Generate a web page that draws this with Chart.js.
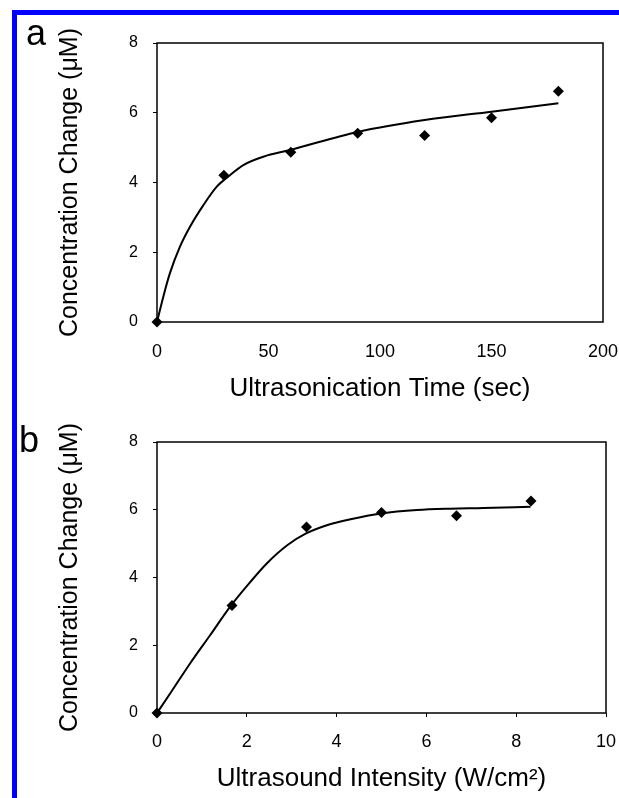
<!DOCTYPE html>
<html>
<head>
<meta charset="utf-8">
<script src="https://cdn.jsdelivr.net/npm/chart.js@4.4.0/dist/chart.umd.min.js"></script>
<style>
  html, body { margin: 0; padding: 0; background: #fff; }
  #page { position: relative; width: 619px; height: 798px; overflow: hidden; }
  .panel { position: absolute; left: 0; width: 619px; }
  #frame { position: absolute; left: 12px; top: 10px; right: -10px; bottom: -10px;
           border-top: 5px solid #0000ff; border-left: 5px solid #0000ff; pointer-events: none; }
</style>
</head>
<body>
<div id="page">
  <div class="panel" style="top:0;height:410px"><canvas id="chartA"></canvas></div>
  <div class="panel" style="top:410px;height:388px"><canvas id="chartB"></canvas></div>
  <div id="frame"></div>
</div>
<script>
// panel a: concentration change vs ultrasonication time
var timeSec = [0, 30, 60, 90, 120, 150, 180];
var concByTime = [0, 4.21, 4.87, 5.41, 5.35, 5.86, 6.62];
var fitTimeX = [0, 2.8, 5.8, 10.3, 14.8, 20.8, 26.8, 32.7, 38.7, 47.7, 59.6, 90, 120, 150, 180];
var fitTimeY = [0, 0.72, 1.40, 2.16, 2.73, 3.35, 3.88, 4.21, 4.50, 4.74, 4.93, 5.45, 5.79, 6.03, 6.27];
var timeTicks = [0, 50, 100, 150, 200];

// panel b: concentration change vs ultrasound intensity
var intensity = [0, 1.67, 3.33, 5, 6.67, 8.33];
var concByIntensity = [0, 3.17, 5.49, 5.92, 5.82, 6.26];
var fitIntX = [0, 0.3, 0.74, 1.19, 1.63, 2.08, 2.45, 2.9, 3.32, 3.8, 4.31, 5.0, 5.79, 6.53, 7.27, 8.32];
var fitIntY = [0, 0.59, 1.47, 2.31, 3.14, 3.87, 4.42, 4.95, 5.30, 5.55, 5.72, 5.89, 5.99, 6.03, 6.05, 6.09];
var intensityTicks = [0, 2, 4, 6, 8, 10];

var concTicks = [0, 2, 4, 6, 8];
var yTitle = 'Concentration Change (\u03BCM)';

function toPoints(xs, ys) {
    return xs.map(function (x, i) { return { x: x, y: ys[i] }; });
}

// frame round the plot area and the panel letter
var boxPlugin = {
    id: 'box',
    beforeDatasetsDraw: function (chart) {
        var a = chart.chartArea, ctx = chart.ctx;
        ctx.save();
        ctx.strokeStyle = '#000';
        ctx.lineWidth = 1.5;
        ctx.strokeRect(a.left, a.top, a.right - a.left, a.bottom - a.top);
        ctx.restore();
    },
    afterDraw: function (chart, args, opts) {
        var ctx = chart.ctx;
        ctx.save();
        ctx.fillStyle = '#000';
        ctx.font = '36px "Liberation Sans", Arial, sans-serif';
        ctx.textBaseline = 'alphabetic';
        ctx.fillText(opts.letter, opts.x, opts.y);
        ctx.restore();
    }
};

function makeChart(id, p) {
    var ctx = document.getElementById(id).getContext('2d');
    return new Chart(ctx, {
        type: 'scatter',
        data: {
            datasets: [{
                data: toPoints(p.xs, p.ys),
                pointStyle: 'rectRot',
                pointRadius: 5.5,
                backgroundColor: '#000',
                borderColor: '#000',
                borderWidth: 0,
                clip: false,
                order: 0
            }, {
                type: 'line',
                data: toPoints(p.fitX, p.fitY),
                borderColor: '#000',
                borderWidth: 2,
                pointRadius: 0,
                fill: false,
                cubicInterpolationMode: 'monotone',
                order: 1
            }]
        },
        options: {
            responsive: true,
            maintainAspectRatio: false,
            animation: false,
            layout: { padding: { top: p.padTop, right: p.padRight, left: 0, bottom: 0 } },
            plugins: {
                legend: { display: false },
                tooltip: { enabled: false },
                box: { letter: p.letter, x: p.letterX, y: p.letterY }
            },
            scales: {
                x: {
                    type: 'linear',
                    min: p.xTicks[0],
                    max: p.xTicks[p.xTicks.length - 1],
                    afterBuildTicks: function (s) { s.ticks = p.xTicks.map(function (v) { return { value: v }; }); },
                    afterFit: function (s) { s.height = p.xAxisHeight; s.paddingLeft = 0; s.paddingRight = 0; },
                    border: { display: false },
                    grid: { drawOnChartArea: false, drawTicks: true, tickLength: 4, color: p.xTickColor, lineWidth: 1 },
                    ticks: { color: '#000', padding: p.xTickPad, maxRotation: 0,
                             font: { family: '"Liberation Sans", Arial, sans-serif', size: 18 } },
                    title: { display: true, text: p.xTitle, color: '#000',
                             padding: { top: 0, bottom: p.xTitlePad },
                             font: { family: '"Liberation Sans", Arial, sans-serif', size: 26 } }
                },
                y: {
                    min: 0,
                    max: 8,
                    afterBuildTicks: function (s) { s.ticks = concTicks.map(function (v) { return { value: v }; }); },
                    afterFit: function (s) { s.width = 157; },
                    border: { display: false },
                    grid: { drawOnChartArea: false, drawTicks: true, tickLength: 4, color: '#000', lineWidth: 1 },
                    ticks: { color: '#000', padding: 15,
                             font: { family: '"Liberation Sans", Arial, sans-serif', size: 16 } },
                    title: { display: true, text: yTitle, color: '#000',
                             padding: { top: 55, bottom: 0 },
                             font: { family: '"Liberation Sans", Arial, sans-serif', size: 25 } }
                }
            }
        },
        plugins: [boxPlugin]
    });
}

makeChart('chartA', {
    xs: timeSec, ys: concByTime, fitX: fitTimeX, fitY: fitTimeY,
    xTicks: timeTicks, xTitle: 'Ultrasonication Time (sec)',
    padTop: 43, padRight: 16, xAxisHeight: 88, xTickPad: 15, xTitlePad: 6,
    xTickColor: 'rgba(0,0,0,0)',
    letter: 'a', letterX: 26, letterY: 45
});

makeChart('chartB', {
    xs: intensity, ys: concByIntensity, fitX: fitIntX, fitY: fitIntY,
    xTicks: intensityTicks, xTitle: 'Ultrasound Intensity (W/cm\u00B2)',
    padTop: 32, padRight: 13, xAxisHeight: 85, xTickPad: 14, xTitlePad: 4,
    xTickColor: '#000',
    letter: 'b', letterX: 19, letterY: 42
});
</script>
</body>
</html>
